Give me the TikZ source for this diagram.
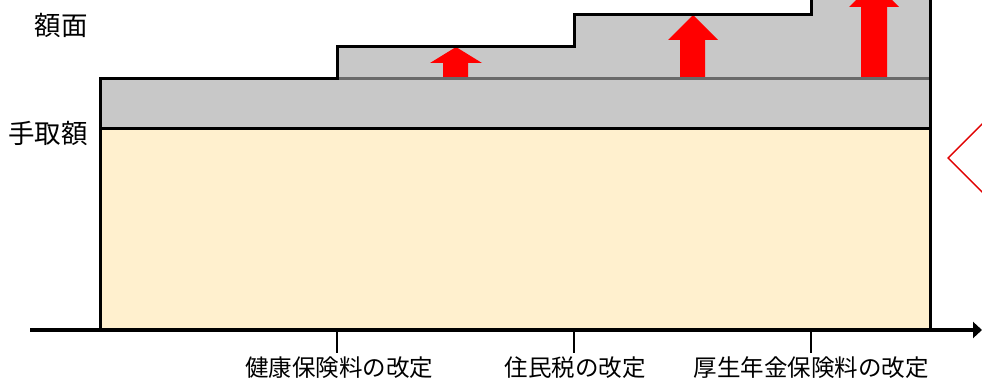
\documentclass[tikz,border=0pt]{standalone}
\usepackage{fontspec}
\newfontfamily\jpfont{Noto Sans CJK JP}
\usetikzlibrary{arrows.meta}
\definecolor{basegray}{HTML}{C8C8C8}
\definecolor{divgray}{HTML}{6A6A6A}
\definecolor{paleyellow}{HTML}{FFF0CE}
\definecolor{upred}{HTML}{FF0000}
\definecolor{markred}{HTML}{E00000}
\tikzset{
  outline/.style={draw=black, line width=3pt, line join=miter},
  uparrow/.style={fill=upred, draw=none},
  tickline/.style={draw=black, line width=2.2pt},
  axisline/.style={draw=black, line width=3.2pt, -{Triangle[length=9pt,width=16pt]}},
  lbl/.style={font=\jpfont\fontsize{23.5}{26}\selectfont, inner sep=0pt},
  sidelbl/.style={font=\jpfont\fontsize{26.5}{29}\selectfont, inner sep=0pt},
}
\begin{document}
\begin{tikzpicture}[x=1pt,y=-1pt]
\useasboundingbox (0,0) rectangle (982,379);
\clip (0,0) rectangle (982,379);
% yellow take-home area
\fill[paleyellow] (100,129) rectangle (930,330);
% gray stepped area
\fill[basegray] (100,129) -- (100,79) -- (337,79) -- (337,47) -- (574,47) -- (574,15) -- (811,15) -- (811,-30) -- (930,-30) -- (930,129) -- cycle;
% red arrows
\fill[uparrow] (443,79) -- (443,63) -- (430,63) -- (456,47) -- (482,63) -- (468,63) -- (468,79) -- cycle;
\fill[uparrow] (680,79) -- (680,40) -- (668,40) -- (693,15) -- (718,40) -- (705,40) -- (705,79) -- cycle;
\fill[uparrow] (861,79) -- (861,7) -- (849,7) -- (874,-18) -- (899,7) -- (887,7) -- (887,79) -- cycle;
% divider line
\draw[divgray, line width=3pt] (337,79) -- (930,79);
% outlines
\draw[outline] (100,330) -- (100,79) -- (337,79) -- (337,47) -- (574,47) -- (574,15) -- (811,15) -- (811,-30);
\draw[outline] (100,129) -- (930,129);
\draw[outline] (930,-30) -- (930,330);
% axis
\coordinate (axS) at (30,330);
\coordinate (axE) at (982,330);
\draw[axisline] (axS) -- (axE);
% ticks
\coordinate (t1) at (337,330); \coordinate (t1b) at (337,353);
\coordinate (t2) at (574,330); \coordinate (t2b) at (574,353);
\coordinate (t3) at (811,330); \coordinate (t3b) at (811,353);
\draw[tickline] (t1) -- (t1b);
\draw[tickline] (t2) -- (t2b);
\draw[tickline] (t3) -- (t3b);
% labels
\node[lbl] (l1) at (339,368) {健康保険料の改定};
\node[lbl] (l2) at (575,368) {住民税の改定};
\node[lbl] (l3) at (811,368) {厚生年金保険料の改定};
\node[sidelbl] (gross) at (61,25) {額面};
\node[sidelbl] (net) at (48,133) {手取額};
% red chevron
\coordinate (cv1) at (990,116);
\coordinate (cv2) at (948,158);
\coordinate (cv3) at (990,200);
\draw[markred, line width=1.4pt] (cv1) -- (cv2) -- (cv3);
\end{tikzpicture}
\end{document}
